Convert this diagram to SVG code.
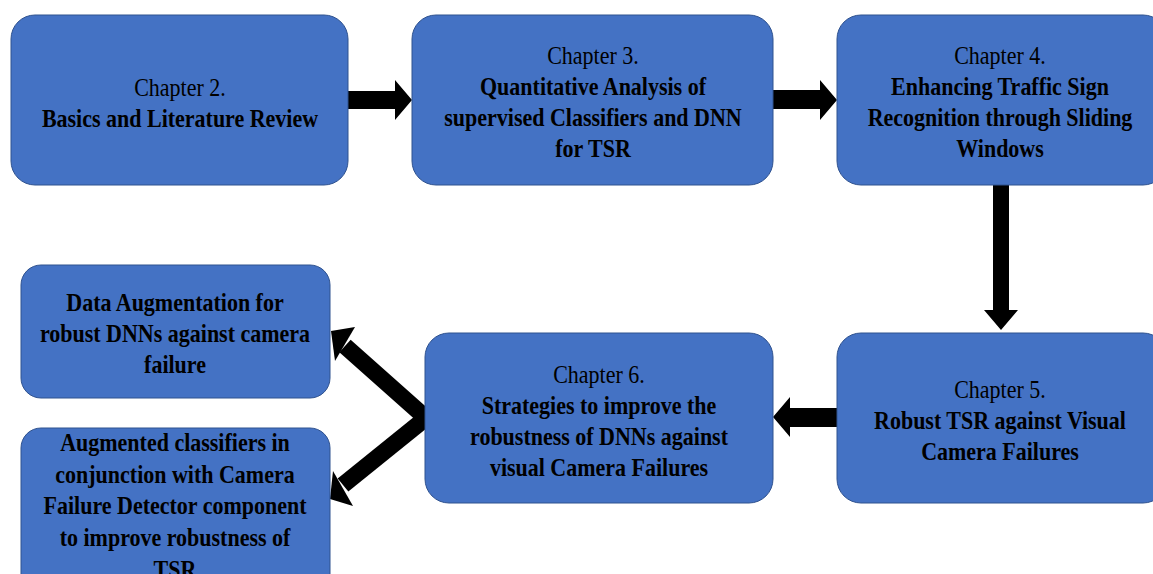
<svg xmlns="http://www.w3.org/2000/svg" width="1153" height="574" viewBox="0 0 1153 574">
  <style>
    .box { fill: #4472C4; stroke: #2F528F; stroke-width: 1; }
    .t { font-family: "Liberation Serif", "Times New Roman", serif; font-size: 25px; fill: #000; text-anchor: middle; }
    .b { font-weight: bold; }
    .arrow { fill: #000; }
    .shaft { stroke: #000; stroke-width: 17; fill: none; }
  </style>
  <rect width="1153" height="574" fill="#fff"/>

  <g id="connectors">
    <!-- Chapter 2 -> Chapter 3 -->
    <polygon class="arrow" points="348,91 395,91 395,80 412,100 395,120 395,109 348,109"/>
    <!-- Chapter 3 -> Chapter 4 -->
    <polygon class="arrow" points="773,90 820,90 820,80 837,100 820,120 820,109 773,109"/>
    <!-- Chapter 4 -> Chapter 5 -->
    <polygon class="arrow" points="993,185 1009,185 1009,310 1018,310 1001,330 984,310 993,310"/>
    <!-- Chapter 5 -> Chapter 6 -->
    <polygon class="arrow" points="837,408 790,408 790,397 773,417 790,437 790,427 837,427"/>
    <!-- Chapter 6 -> Data Augmentation -->
    <line class="shaft" x1="426" y1="418" x2="345" y2="346"/>
    <polygon class="arrow" points="331,331 355,327 335,361"/>
    <!-- Chapter 6 -> Augmented classifiers -->
    <line class="shaft" x1="426" y1="418" x2="343" y2="485"/>
    <polygon class="arrow" points="330,499 333,471 353,506"/>
  </g>

  <g id="ch2">
    <rect class="box" x="11" y="15" width="337" height="170" rx="24"/>
    <g transform="translate(180,0) scale(0.88,1)">
      <text class="t" x="0" y="96">Chapter 2.</text>
      <text class="t b" x="0" y="127">Basics and Literature Review</text>
    </g>
  </g>

  <g id="ch3">
    <rect class="box" x="412" y="15" width="361" height="170" rx="24"/>
    <g transform="translate(593,0) scale(0.88,1)">
      <text class="t" x="0" y="64">Chapter 3.</text>
      <text class="t b" x="0" y="95">Quantitative Analysis of</text>
      <text class="t b" x="0" y="126">supervised Classifiers and DNN</text>
      <text class="t b" x="0" y="157">for TSR</text>
    </g>
  </g>

  <g id="ch4">
    <rect class="box" x="837" y="15" width="330" height="170" rx="24"/>
    <g transform="translate(1000,0) scale(0.88,1)">
      <text class="t" x="0" y="64">Chapter 4.</text>
      <text class="t b" x="0" y="95">Enhancing Traffic Sign</text>
      <text class="t b" x="0" y="126">Recognition through Sliding</text>
      <text class="t b" x="0" y="157">Windows</text>
    </g>
  </g>

  <g id="ch5">
    <rect class="box" x="837" y="333" width="330" height="170" rx="24"/>
    <g transform="translate(1000,0) scale(0.88,1)">
      <text class="t" x="0" y="398">Chapter 5.</text>
      <text class="t b" x="0" y="429">Robust TSR against Visual</text>
      <text class="t b" x="0" y="460">Camera Failures</text>
    </g>
  </g>

  <g id="ch6">
    <rect class="box" x="425" y="333" width="348" height="170" rx="24"/>
    <g transform="translate(599,0) scale(0.88,1)">
      <text class="t" x="0" y="383">Chapter 6.</text>
      <text class="t b" x="0" y="414">Strategies to improve the</text>
      <text class="t b" x="0" y="445">robustness of DNNs against</text>
      <text class="t b" x="0" y="476">visual Camera Failures</text>
    </g>
  </g>

  <g id="data-augmentation">
    <rect class="box" x="21" y="265" width="309" height="133" rx="20"/>
    <g transform="translate(175,0) scale(0.88,1)">
      <text class="t b" x="0" y="311">Data Augmentation for</text>
      <text class="t b" x="0" y="342">robust DNNs against camera</text>
      <text class="t b" x="0" y="373">failure</text>
    </g>
  </g>

  <g id="augmented-classifiers">
    <rect class="box" x="21" y="428" width="309" height="180" rx="20"/>
    <g transform="translate(175,0) scale(0.88,1)">
      <text class="t b" x="0" y="451">Augmented classifiers in</text>
      <text class="t b" x="0" y="483">conjunction with Camera</text>
      <text class="t b" x="0" y="514">Failure Detector component</text>
      <text class="t b" x="0" y="546">to improve robustness of</text>
      <text class="t b" x="0" y="578">TSR</text>
    </g>
  </g>
</svg>
